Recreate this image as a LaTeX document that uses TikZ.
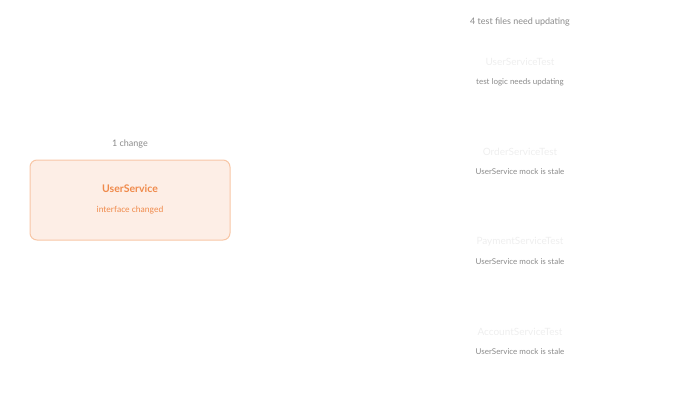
\documentclass[tikz,border=0pt]{standalone}
\usepackage{fontspec}
\setmainfont{Lato}
\usetikzlibrary{positioning}
\definecolor{svcfill}{HTML}{FDEEE6}
\definecolor{svcdraw}{HTML}{F8C6A6}
\definecolor{svctext}{HTML}{F08A4B}
\definecolor{faint}{HTML}{EEEEEE}
\definecolor{note}{HTML}{8A8A8A}
\tikzset{
  caption/.style={text=note, font=\fontsize{9}{10}\selectfont},
  testname/.style={text=faint, font=\fontsize{10}{12}\selectfont},
  testnote/.style={text=note, font=\fontsize{8}{10}\selectfont}
}
\begin{document}
\begin{tikzpicture}[x=1pt, y=-1pt]
    \useasboundingbox (0,0) rectangle (680,410);
    \node[draw=svcdraw, fill=svcfill, rounded corners=7pt, line width=1pt, minimum width=200pt, minimum height=80pt] (svc) at (130,200) {};
    \node[text=svctext, font=\fontsize{10.5}{12}\selectfont\bfseries] (svcname) at (130,189) {UserService};
    \node[text=svctext, font=\fontsize{8.5}{10}\selectfont] (svcnote) at (130,210) {interface changed};
    \node[caption] (changes) at (130,144) {1 change};

    \node[caption] (heading) at (520,22) {4 test files need updating};
    \node[testname] (t1) at (520,62) {UserServiceTest};
    \node[testnote] (n1) at (520,82) {test logic needs updating};
    \node[testname] (t2) at (520,152) {OrderServiceTest};
    \node[testnote] (n2) at (520,172) {UserService mock is stale};
    \node[testname] (t3) at (520,242) {PaymentServiceTest};
    \node[testnote] (n3) at (520,262) {UserService mock is stale};
    \node[testname] (t4) at (520,332) {AccountServiceTest};
    \node[testnote] (n4) at (520,352) {UserService mock is stale};
\end{tikzpicture}
\end{document}
